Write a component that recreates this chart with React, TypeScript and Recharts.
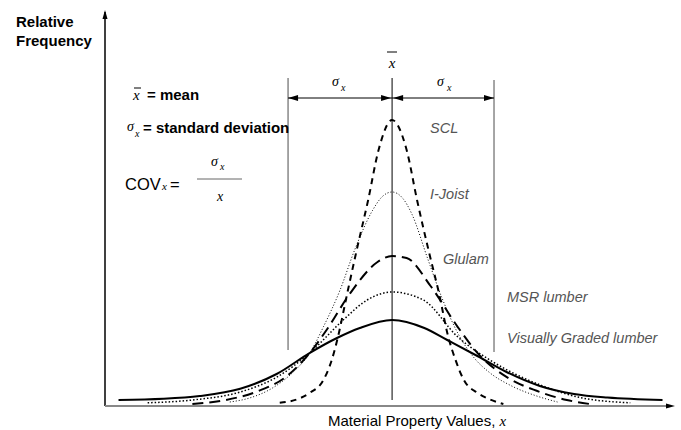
import React from "react";
import {
  LineChart,
  Line,
  XAxis,
  YAxis,
  ReferenceLine,
  ReferenceDot,
} from "recharts";

// x in units of the standard deviation (mean = 0), y = relative frequency
const sclX = [-1.08, -0.88, -0.79, -0.66, -0.58, -0.52, -0.43, -0.34, -0.23, -0.13, 0, 0.14, 0.24, 0.35, 0.45, 0.54, 0.61, 0.69, 0.82, 0.91, 1.07];
const sclY = [0.008, 0.02, 0.033, 0.065, 0.115, 0.173, 0.283, 0.39, 0.515, 0.64, 0.715, 0.64, 0.515, 0.39, 0.283, 0.173, 0.115, 0.065, 0.033, 0.02, 0.005];

const joistX = [-1.56, -1.37, -1.15, -0.95, -0.79, -0.66, -0.5, -0.36, -0.19, -0.1, 0, 0.1, 0.19, 0.34, 0.48, 0.63, 0.79, 0.94, 1.15, 1.39, 1.59];
const joistY = [0.01, 0.02, 0.045, 0.085, 0.133, 0.198, 0.29, 0.39, 0.488, 0.522, 0.535, 0.52, 0.48, 0.37, 0.27, 0.183, 0.12, 0.083, 0.05, 0.025, 0.01];

const glulamX = [-1.92, -1.6, -1.3, -1.01, -0.79, -0.63, -0.4, -0.14, 0, 0.14, 0.37, 0.63, 0.82, 1.13, 1.39, 1.68, 1.9];
const glulamY = [0.005, 0.015, 0.036, 0.075, 0.133, 0.19, 0.283, 0.36, 0.375, 0.37, 0.3, 0.198, 0.133, 0.068, 0.038, 0.015, 0.005];

const msrX = [-2.35, -1.92, -1.46, -1.11, -0.79, -0.47, -0.24, 0, 0.3, 0.63, 0.94, 1.42, 1.83, 2.29];
const msrY = [0.008, 0.015, 0.035, 0.072, 0.133, 0.215, 0.265, 0.285, 0.265, 0.173, 0.115, 0.053, 0.02, 0.008];

const vgX = [-2.63, -2.2, -1.85, -1.46, -1.11, -0.79, -0.53, -0.31, 0, 0.31, 0.53, 0.82, 1.1, 1.42, 1.75, 2.07, 2.6];
const vgY = [0.015, 0.018, 0.025, 0.043, 0.08, 0.133, 0.17, 0.195, 0.215, 0.195, 0.165, 0.125, 0.085, 0.05, 0.03, 0.021, 0.015];

const seriesNames = ["SCL", "I-Joist", "Glulam", "MSR lumber", "Visually Graded lumber"];

const xMin = -2.76;
const xMax = 2.72;
const meanX = 0;
const sigmaLeft = -1.0;
const sigmaRight = 0.98;
const arrowY = 0.77;

const zip = (xs: number[], ys: number[]) => xs.map((x, i) => ({ x, y: ys[i] }));

const sans = "'Liberation Sans', Arial, sans-serif";
const serif = "'Liberation Serif', 'Times New Roman', serif";

const arrowHead = (dir: "left" | "right" | "up", len = 10, half = 3) => (p: any) => {
  const { cx, cy } = p;
  let pts = "";
  if (dir === "left") pts = `${cx},${cy} ${cx + len},${cy - half} ${cx + len},${cy + half}`;
  if (dir === "right") pts = `${cx},${cy} ${cx - len},${cy - half} ${cx - len},${cy + half}`;
  if (dir === "up") pts = `${cx},${cy} ${cx - half},${cy + len} ${cx + half},${cy + len}`;
  return <polygon points={pts} fill="#000" />;
};

export default function App() {
  const lbl = { fontFamily: sans, fontSize: 14.5, fontStyle: "italic", fill: "#555" } as const;
  return (
    <div style={{ position: "absolute", left: 0, top: 0, width: 681, height: 430, background: "#fff" }}>
      <LineChart width={681} height={430} margin={{ top: 6, right: 6, bottom: 24, left: 105 }}>
        <XAxis type="number" dataKey="x" domain={[xMin, xMax]} hide allowDataOverflow />
        <YAxis type="number" dataKey="y" domain={[0, 1]} hide allowDataOverflow />

        <ReferenceLine segment={[{ x: xMin, y: 0 }, { x: xMin, y: 0.985 }]} stroke="#000" strokeWidth={1.5} ifOverflow="visible" />
        <ReferenceLine segment={[{ x: xMin, y: 0 }, { x: xMax - 0.05, y: 0 }]} stroke="#888" strokeWidth={2} ifOverflow="visible" />
        <ReferenceLine segment={[{ x: meanX, y: 0.015 }, { x: meanX, y: 0.82 }]} stroke="#000" strokeWidth={1} />
        <ReferenceLine segment={[{ x: sigmaLeft, y: 0.14 }, { x: sigmaLeft, y: 0.82 }]} stroke="#888" strokeWidth={1.5} />
        <ReferenceLine segment={[{ x: sigmaRight, y: 0.135 }, { x: sigmaRight, y: 0.815 }]} stroke="#888" strokeWidth={1.5} />
        <ReferenceLine segment={[{ x: sigmaLeft, y: arrowY }, { x: sigmaRight, y: arrowY }]} stroke="#000" strokeWidth={1} />

        <ReferenceDot x={sigmaLeft} y={arrowY} shape={arrowHead("left")} ifOverflow="visible" />
        <ReferenceDot x={meanX - 0.01} y={arrowY} shape={arrowHead("right")} ifOverflow="visible" />
        <ReferenceDot x={meanX + 0.01} y={arrowY} shape={arrowHead("left")} ifOverflow="visible" />
        <ReferenceDot x={sigmaRight} y={arrowY} shape={arrowHead("right")} ifOverflow="visible" />
        <ReferenceDot x={xMin} y={0.99} shape={arrowHead("up", 9, 2.5)} ifOverflow="visible" />
        <ReferenceDot x={xMax} y={0} shape={arrowHead("right", 9, 2.5)} ifOverflow="visible" />

        <Line data={zip(vgX, vgY)} dataKey="y" name={seriesNames[4]} type="monotone" stroke="#000" strokeWidth={2} dot={false} isAnimationActive={false} />
        <Line data={zip(msrX, msrY)} dataKey="y" name={seriesNames[3]} type="monotone" stroke="#000" strokeWidth={1.5} strokeDasharray="1.5 2" dot={false} isAnimationActive={false} />
        <Line data={zip(glulamX, glulamY)} dataKey="y" name={seriesNames[2]} type="monotone" stroke="#000" strokeWidth={2} strokeDasharray="11 6" dot={false} isAnimationActive={false} />
        <Line data={zip(joistX, joistY)} dataKey="y" name={seriesNames[1]} type="monotone" stroke="#000" strokeWidth={1} strokeDasharray="1 2" dot={false} isAnimationActive={false} />
        <Line data={zip(sclX, sclY)} dataKey="y" name={seriesNames[0]} type="monotone" stroke="#000" strokeWidth={2} strokeDasharray="6 5" dot={false} isAnimationActive={false} />
      </LineChart>

      <svg width={681} height={430} style={{ position: "absolute", left: 0, top: 0, pointerEvents: "none" }}>
        <text x={16} y={27} fontFamily={sans} fontSize={15} fontWeight="bold">Relative</text>
        <text x={16} y={46} fontFamily={sans} fontSize={15} fontWeight="bold">Frequency</text>

        <line x1={134} x2={141} y1={88} y2={88} stroke="#000" strokeWidth={1} />
        <text x={133} y={100} fontFamily={serif} fontSize={15} fontStyle="italic">x</text>
        <text x={147} y={100} fontFamily={sans} fontSize={15} fontWeight="bold">= mean</text>

        <text x={127} y={131} fontFamily={serif} fontSize={14} fontStyle="italic">σ</text>
        <text x={135} y={137} fontFamily={serif} fontSize={10} fontStyle="italic">x</text>
        <text x={143} y={133} fontFamily={sans} fontSize={15} fontWeight="bold">= standard deviation</text>

        <text x={125} y={190} fontFamily={sans} fontSize={16.5}>COV</text>
        <text x={162} y={190} fontFamily={serif} fontSize={11} fontStyle="italic">x</text>
        <text x={170} y={190} fontFamily={sans} fontSize={16.5}>=</text>
        <text x={211} y={166} fontFamily={serif} fontSize={14} fontStyle="italic">σ</text>
        <text x={220} y={170} fontFamily={serif} fontSize={10} fontStyle="italic">x</text>
        <line x1={197} x2={242} y1={179} y2={179} stroke="#666" strokeWidth={1} />
        <text x={217} y={201} fontFamily={serif} fontSize={14} fontStyle="italic">x</text>

        <line x1={387} x2={397} y1={52} y2={52} stroke="#000" strokeWidth={1} />
        <text x={392} y={68} fontFamily={serif} fontSize={15} fontStyle="italic" textAnchor="middle">x</text>

        <text x={332} y={86} fontFamily={serif} fontSize={14} fontStyle="italic">σ</text>
        <text x={341} y={91} fontFamily={serif} fontSize={10} fontStyle="italic">x</text>
        <text x={437} y={86} fontFamily={serif} fontSize={14} fontStyle="italic">σ</text>
        <text x={447} y={91} fontFamily={serif} fontSize={10} fontStyle="italic">x</text>

        <text x={430} y={133} {...lbl}>{seriesNames[0]}</text>
        <text x={430} y={199} {...lbl}>{seriesNames[1]}</text>
        <text x={443} y={264} {...lbl}>{seriesNames[2]}</text>
        <text x={507} y={302} {...lbl}>{seriesNames[3]}</text>
        <text x={507} y={343} {...lbl}>{seriesNames[4]}</text>

        <text x={328} y={426} fontFamily={sans} fontSize={15}>
          Material Property Values, <tspan fontFamily={serif} fontStyle="italic">x</tspan>
        </text>
      </svg>
    </div>
  );
}
